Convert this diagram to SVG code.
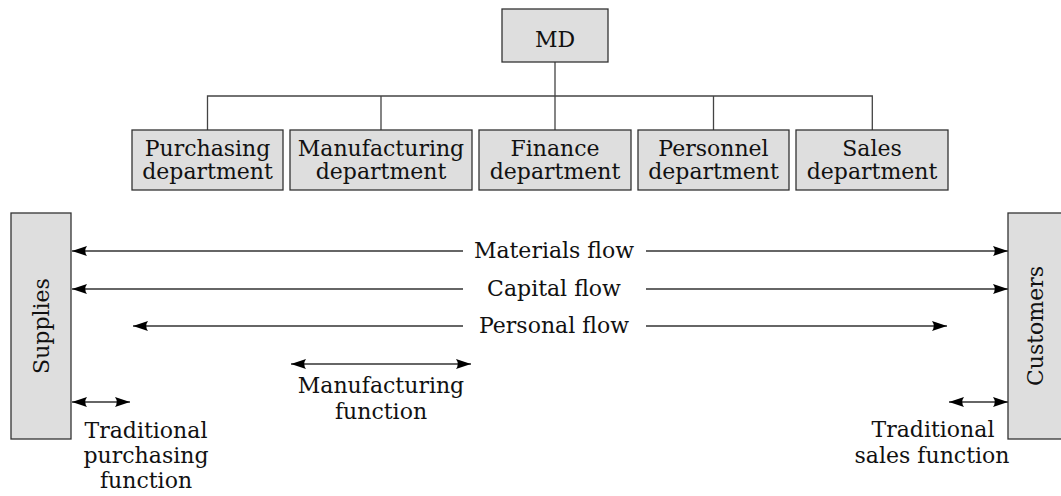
<svg xmlns="http://www.w3.org/2000/svg" width="1061" height="496" viewBox="0 0 1061 496">
<style>
  .box { fill: #dedede; stroke: #333; stroke-width: 1.3; }
  .t { font-family: "DejaVu Serif", "Liberation Serif", serif; font-size: 22px; fill: #111; text-anchor: middle; }
  .tree { stroke: #444; stroke-width: 1.3; fill: none; }
  .flow { stroke: #333; stroke-width: 1.4; fill: none; }
  .both { marker-start: url(#ah); marker-end: url(#ah); }
  .st { marker-start: url(#ah); }
  .en { marker-end: url(#ah); }
</style>
<defs>
  <marker id="ah" markerUnits="userSpaceOnUse" markerWidth="16" markerHeight="11" refX="15" refY="5" orient="auto-start-reverse" viewBox="0 0 16 11">
    <path d="M0,0 Q3.5,5 0,10 L15,5 Z" fill="#000"/>
  </marker>
</defs>
<rect width="1061" height="496" fill="#fff"/>

<g id="connectors">
  <path class="tree" d="M555,62 V130 M207.5,130 V96 H872.3 V130 M381,96 V130 M713.5,96 V130"/>
  <line class="flow st" x1="72" y1="251" x2="463" y2="251"/>
  <line class="flow en" x1="646" y1="251" x2="1008" y2="251"/>
  <line class="flow st" x1="72" y1="289" x2="463" y2="289"/>
  <line class="flow en" x1="646" y1="289" x2="1008" y2="289"/>
  <line class="flow st" x1="133" y1="326" x2="463" y2="326"/>
  <line class="flow en" x1="646" y1="326" x2="947" y2="326"/>
  <line class="flow both" x1="291" y1="364" x2="471" y2="364"/>
  <line class="flow both" x1="72" y1="402" x2="130" y2="402"/>
  <line class="flow both" x1="949" y1="402" x2="1008" y2="402"/>
</g>

<g id="md">
  <rect class="box" x="502" y="9" width="106" height="53"/>
  <text class="t" x="555" y="47">MD</text>
</g>
<g id="purchasing">
  <rect class="box" x="132" y="130" width="151" height="60"/>
  <text class="t" x="207.5" y="156">Purchasing</text>
  <text class="t" x="207.5" y="179">department</text>
</g>
<g id="manufacturing">
  <rect class="box" x="290" y="130" width="182" height="60"/>
  <text class="t" x="381" y="156">Manufacturing</text>
  <text class="t" x="381" y="179">department</text>
</g>
<g id="finance">
  <rect class="box" x="479" y="130" width="152" height="60"/>
  <text class="t" x="555" y="156">Finance</text>
  <text class="t" x="555" y="179">department</text>
</g>
<g id="personnel">
  <rect class="box" x="638" y="130" width="151" height="60"/>
  <text class="t" x="713.5" y="156">Personnel</text>
  <text class="t" x="713.5" y="179">department</text>
</g>
<g id="sales">
  <rect class="box" x="796" y="130" width="152" height="60"/>
  <text class="t" x="872" y="156">Sales</text>
  <text class="t" x="872" y="179">department</text>
</g>

<g id="supplies">
  <rect class="box" x="11" y="213" width="60" height="226"/>
  <text class="t" transform="translate(49,326) rotate(-90)">Supplies</text>
</g>
<g id="customers">
  <rect class="box" x="1008" y="213" width="60" height="226"/>
  <text class="t" transform="translate(1043,326) rotate(-90)">Customers</text>
</g>

<g id="labels">
  <text class="t" x="554" y="258">Materials flow</text>
  <text class="t" x="554" y="296">Capital flow</text>
  <text class="t" x="554" y="333">Personal flow</text>
  <text class="t" x="381" y="393">Manufacturing</text>
  <text class="t" x="381" y="419">function</text>
  <text class="t" x="146" y="438">Traditional</text>
  <text class="t" x="146" y="463">purchasing</text>
  <text class="t" x="146" y="488">function</text>
  <text class="t" x="933" y="437">Traditional</text>
  <text class="t" x="932" y="463">sales function</text>
</g>
</svg>
